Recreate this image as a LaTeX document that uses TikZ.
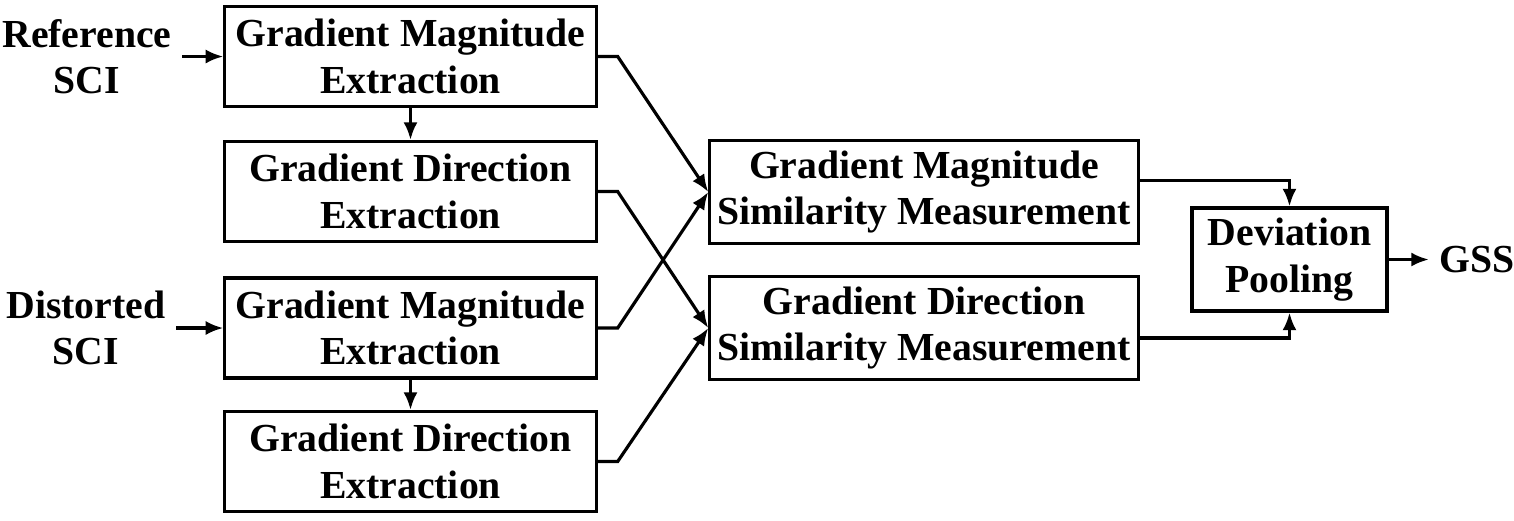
\documentclass[tikz,border=0pt]{standalone}
\usepackage{fontspec}
\setmainfont{Liberation Serif}
\usetikzlibrary{arrows.meta}

\begin{document}
\begin{tikzpicture}[x=0.01cm, y=-0.01cm, line width=0.9pt, >={Latex[length=5pt,width=4pt]}]
\tikzstyle{block}=[draw, align=center, inner sep=0pt, font=\fontsize{11.3}{13.2}\selectfont\bfseries, minimum width=3.71cm, minimum height=1.0cm]
\tikzstyle{wide}=[block, minimum width=4.28cm, minimum height=1.03cm]
\tikzstyle{io}=[align=center, inner sep=0pt, outer xsep=3pt, font=\fontsize{11.3}{13.2}\selectfont\bfseries]
\useasboundingbox (0,0) rectangle (1514,520);

\node[io] (ref) at (87,56.5) {Reference\\SCI};
\node[io] (dis) at (86,328) {Distorted\\SCI};

\node[block] (gm1) at (410.5,56.5) {Gradient Magnitude\\Extraction};
\node[block] (gd1) at (410.5,191.5) {Gradient Direction\\Extraction};
\node[block] (gm2) at (410.5,328) {Gradient Magnitude\\Extraction};
\node[block] (gd2) at (410.5,461.5) {Gradient Direction\\Extraction};

\node[wide] (gms) at (924,192) {Gradient Magnitude\\Similarity Measurement};
\node[wide] (gds) at (924,328) {Gradient Direction\\Similarity Measurement};

\node[block, minimum width=1.95cm, minimum height=1.03cm] (dp) at (1289.5,259.5) {Deviation\\Pooling};
\node[io] (gss) at (1477,259.5) {GSS};

\path[->]
(ref) edge (gm1)
(dis) edge (gm2)
(gm1) edge (gd1)
(gm2) edge (gd2)
(dp) edge (gss);

\draw[->] (gm1.east) -- ++(20,0) -- (gms.west);
\draw[->] (gd1.east) -- ++(20,0) -- (gds.west);
\draw[->] (gm2.east) -- ++(20,0) -- (gms.west);
\draw[->] (gd2.east) -- ++(20,0) -- (gds.west);

\draw[->] ([yshift=0.115cm]gms.east) -| (dp.north);
\draw[->] ([yshift=-0.1cm]gds.east) -| (dp.south);

\end{tikzpicture}
\end{document}
